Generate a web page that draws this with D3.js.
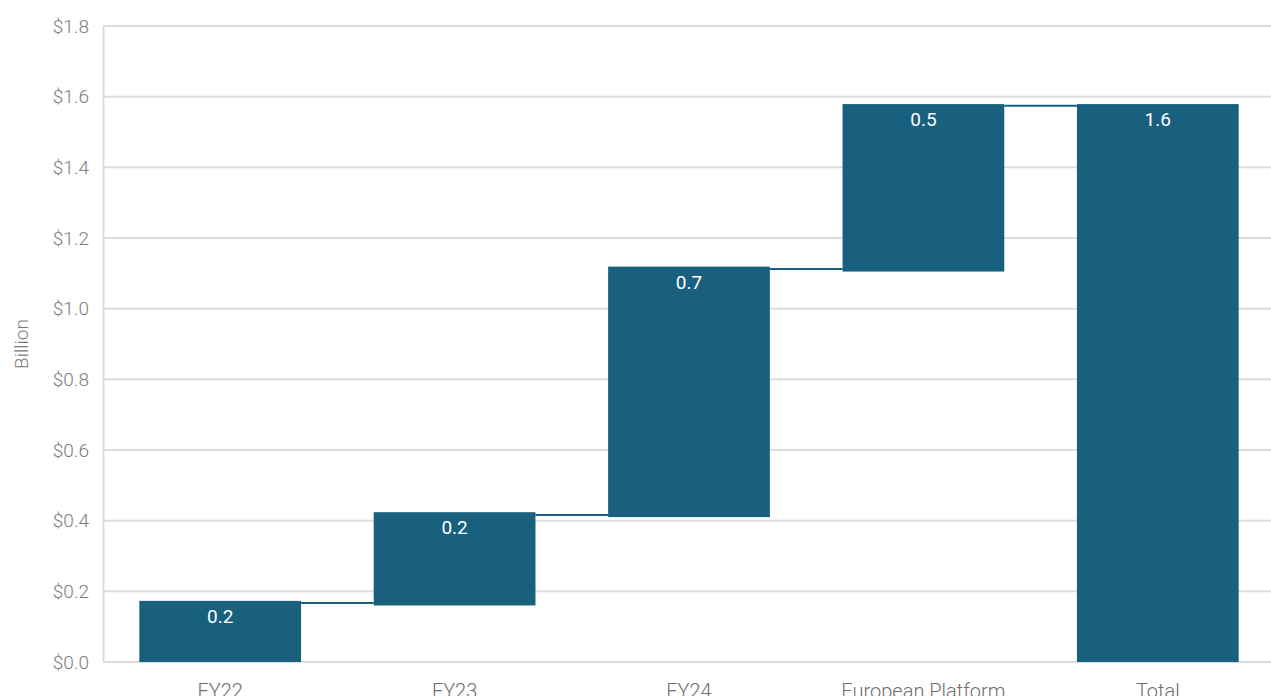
<!DOCTYPE html>
<html>
<head>
<meta charset="utf-8">
<script src="https://cdn.jsdelivr.net/npm/d3@7"></script>
<style>
  html, body { margin: 0; padding: 0; background: #fff; overflow: hidden; }
  svg { display: block; }
</style>
</head>
<body>
<svg id="chart" width="1271" height="696"></svg>
<script>
// Waterfall of cumulative value ($ billion)
const categories = ["FY22", "FY23", "FY24", "European Platform", "Total"];
const barStart   = [0, 0.16, 0.41, 1.105, 0];
const barEnd     = [0.173, 0.424, 1.119, 1.579, 1.579];
const valueLabels = ["0.2", "0.2", "0.7", "0.5", "1.6"];
const connectorLevels = [0.167, 0.416, 1.112, 1.574];
const yTicks = [0, 0.2, 0.4, 0.6, 0.8, 1.0, 1.2, 1.4, 1.6, 1.8];

const svg = d3.select("#chart");
const W = 1271, H = 696;
const m = { left: 103, top: 26, bottom: 34 };

const x = d3.scaleBand()
  .domain(categories)
  .range([m.left, 1275])
  .paddingInner(0.31)
  .paddingOuter(0.155);

const y = d3.scaleLinear()
  .domain([0, 1.8])
  .range([H - m.bottom, m.top]);

const barColor = "#19607f";
const font = "Roboto, 'DejaVu Sans', sans-serif";

// Horizontal grid lines
svg.append("g")
  .selectAll("line")
  .data(yTicks)
  .join("line")
  .attr("x1", m.left)
  .attr("x2", W)
  .attr("y1", d => y(d))
  .attr("y2", d => y(d))
  .attr("stroke", "#dcdcdc")
  .attr("stroke-width", 2);

// Left axis
const yAxis = svg.append("g")
  .attr("transform", `translate(${m.left},0)`)
  .call(d3.axisLeft(y).tickValues(yTicks).tickSize(0).tickPadding(14)
    .tickFormat(d => "$" + d3.format(".1f")(d)));
yAxis.select(".domain").attr("stroke", "#dcdcdc").attr("stroke-width", 2);
yAxis.selectAll("text")
  .attr("fill", "#7d7d7d")
  .style("font-family", font)
  .style("font-weight", 300)
  .style("font-size", "19px");

// Axis title
svg.append("text")
  .attr("transform", `translate(28, ${y(0.9)}) rotate(-90)`)
  .attr("text-anchor", "middle")
  .attr("fill", "#7d7d7d")
  .style("font-family", font)
  .style("font-weight", 300)
  .style("font-size", "19px")
  .text("Billion");

// Connectors between consecutive bars
svg.append("g")
  .selectAll("line")
  .data(connectorLevels)
  .join("line")
  .attr("x1", (d, i) => x(categories[i]) + x.bandwidth())
  .attr("x2", (d, i) => x(categories[i + 1]))
  .attr("y1", d => y(d))
  .attr("y2", d => y(d))
  .attr("stroke", barColor)
  .attr("stroke-width", 2);

// Bars
const bars = categories.map((c, i) => ({ c, s: barStart[i], e: barEnd[i], label: valueLabels[i] }));
svg.append("g")
  .selectAll("rect")
  .data(bars)
  .join("rect")
  .attr("x", d => x(d.c))
  .attr("width", x.bandwidth())
  .attr("y", d => y(d.e))
  .attr("height", d => y(d.s) - y(d.e))
  .attr("fill", barColor);

// Value labels inside the bar tops
svg.append("g")
  .selectAll("text")
  .data(bars)
  .join("text")
  .attr("x", d => x(d.c) + x.bandwidth() / 2)
  .attr("y", d => y(d.e) + 22)
  .attr("text-anchor", "middle")
  .attr("fill", "#ffffff")
  .style("font-family", font)
  .style("font-size", "19px")
  .text(d => d.label);

// Category labels
svg.append("g")
  .selectAll("text")
  .data(categories)
  .join("text")
  .attr("x", d => x(d) + x.bandwidth() / 2)
  .attr("y", H + 2)
  .attr("text-anchor", "middle")
  .attr("fill", "#6e6e6e")
  .style("font-family", font)
  .style("font-weight", 300)
  .style("font-size", "20px")
  .text(d => d);
</script>
</body>
</html>
